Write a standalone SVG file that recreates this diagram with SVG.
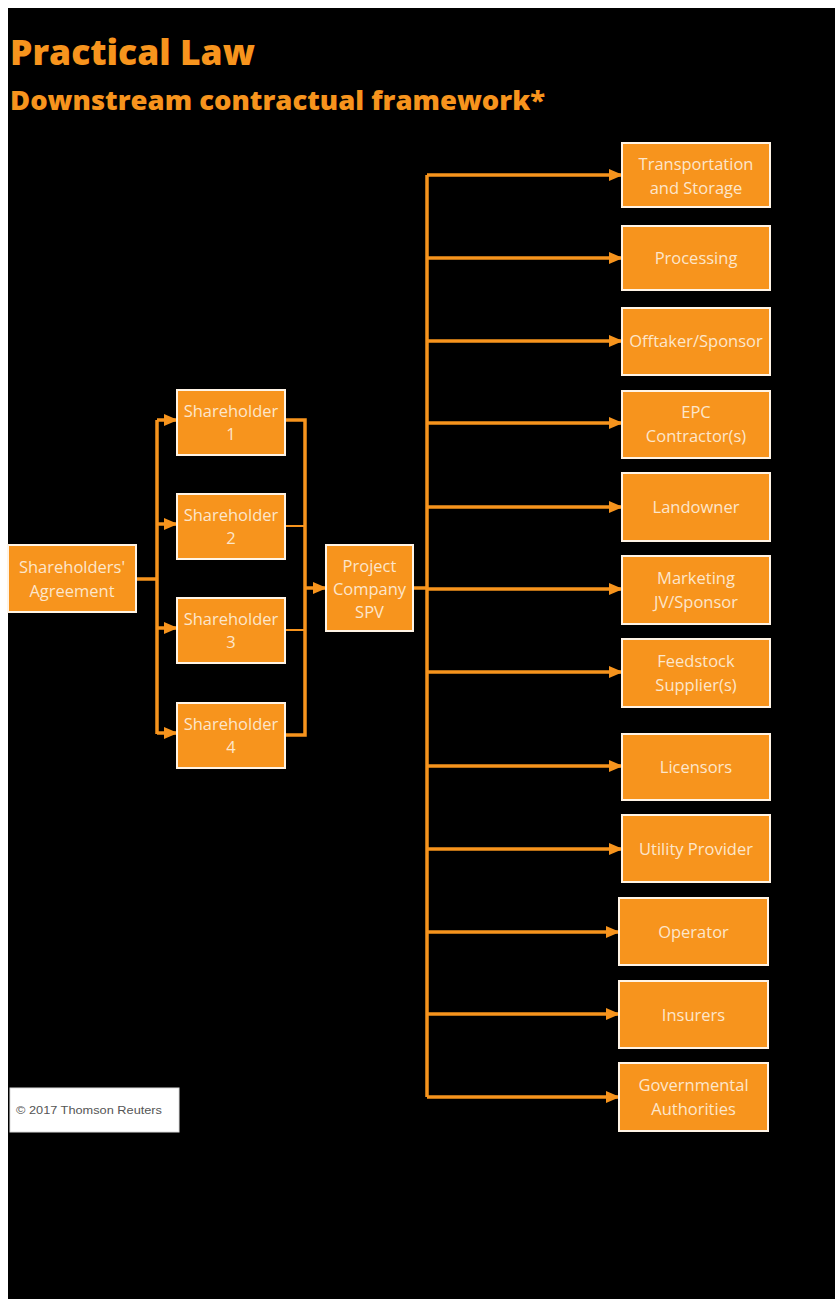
<svg xmlns="http://www.w3.org/2000/svg" width="835" height="1299" viewBox="0 0 835 1299">
  <style>
    .box { fill: #F7941D; stroke: #FFF4E6; stroke-width: 2; }
    .lbl { font-family: "Open Sans", "Liberation Sans", sans-serif; font-size: 16.5px; fill: #FDE6CB; text-anchor: middle; }
    .ln { fill: none; stroke: #F7941D; stroke-width: 3.5; }
    .thin { fill: none; stroke: #F7941D; stroke-width: 2; }
    .title { font-family: "Open Sans", "Liberation Sans", sans-serif; font-weight: 800; fill: #F7941D; }
  </style>
  <defs>
    <marker id="arr" markerUnits="userSpaceOnUse" markerWidth="14" markerHeight="14" viewBox="0 0 14 14" refX="13" refY="7" orient="auto">
      <path d="M0,1 L14,7 L0,13 Z" fill="#F7941D"/>
    </marker>
  </defs>
  <rect x="0" y="0" width="835" height="1299" fill="#FFFFFF"/>
  <rect x="8" y="8" width="827" height="1291" fill="#000000"/>

  <text class="title" x="10" y="65" font-size="35" textLength="245" lengthAdjust="spacingAndGlyphs">Practical Law</text>
  <text class="title" x="10" y="110" font-size="27" textLength="535" lengthAdjust="spacingAndGlyphs">Downstream contractual framework*</text>

  <g id="connectors">
    <path class="ln" d="M136,579 H157"/>
    <path class="ln" d="M157,420 V734"/>
    <path class="ln" d="M157,420 H177" marker-end="url(#arr)"/>
    <path class="ln" d="M157,524 H177" marker-end="url(#arr)"/>
    <path class="ln" d="M157,628 H177" marker-end="url(#arr)"/>
    <path class="ln" d="M157,733 H177" marker-end="url(#arr)"/>
    <path class="ln" d="M285,420 H305 V735 H285"/>
    <path class="thin" d="M285,526 H305"/>
    <path class="thin" d="M285,630 H305"/>
    <path class="ln" d="M305,588 H326" marker-end="url(#arr)"/>
    <path class="ln" d="M413,588 H427"/>
    <path class="ln" d="M427,175 V1097"/>
    <path class="ln" d="M427,175 H622" marker-end="url(#arr)"/>
    <path class="ln" d="M427,258 H622" marker-end="url(#arr)"/>
    <path class="ln" d="M427,341 H622" marker-end="url(#arr)"/>
    <path class="ln" d="M427,423 H622" marker-end="url(#arr)"/>
    <path class="ln" d="M427,507 H622" marker-end="url(#arr)"/>
    <path class="ln" d="M427,589 H622" marker-end="url(#arr)"/>
    <path class="ln" d="M427,672 H622" marker-end="url(#arr)"/>
    <path class="ln" d="M427,766 H622" marker-end="url(#arr)"/>
    <path class="ln" d="M427,849 H622" marker-end="url(#arr)"/>
    <path class="ln" d="M427,932 H619" marker-end="url(#arr)"/>
    <path class="ln" d="M427,1014 H619" marker-end="url(#arr)"/>
    <path class="ln" d="M427,1097 H619" marker-end="url(#arr)"/>
  </g>

  <g id="agreement">
    <rect class="box" x="8" y="545" width="128" height="67"/>
    <text class="lbl" x="72" y="573">Shareholders'</text>
    <text class="lbl" x="72" y="597">Agreement</text>
  </g>
  <g id="sh1">
    <rect class="box" x="177" y="390" width="108" height="65"/>
    <text class="lbl" x="231" y="417">Shareholder</text>
    <text class="lbl" x="231" y="440">1</text>
  </g>
  <g id="sh2">
    <rect class="box" x="177" y="494" width="108" height="65"/>
    <text class="lbl" x="231" y="521">Shareholder</text>
    <text class="lbl" x="231" y="544">2</text>
  </g>
  <g id="sh3">
    <rect class="box" x="177" y="598" width="108" height="65"/>
    <text class="lbl" x="231" y="625">Shareholder</text>
    <text class="lbl" x="231" y="648">3</text>
  </g>
  <g id="sh4">
    <rect class="box" x="177" y="703" width="108" height="65"/>
    <text class="lbl" x="231" y="730">Shareholder</text>
    <text class="lbl" x="231" y="753">4</text>
  </g>
  <g id="spv">
    <rect class="box" x="326" y="545" width="87" height="86"/>
    <text class="lbl" x="369.5" y="572">Project</text>
    <text class="lbl" x="369.5" y="595">Company</text>
    <text class="lbl" x="369.5" y="618">SPV</text>
  </g>

  <g id="transport">
    <rect class="box" x="622" y="143" width="148" height="64"/>
    <text class="lbl" x="696" y="170">Transportation</text>
    <text class="lbl" x="696" y="194">and Storage</text>
  </g>
  <g id="processing">
    <rect class="box" x="622" y="226" width="148" height="64"/>
    <text class="lbl" x="696" y="264">Processing</text>
  </g>
  <g id="offtaker">
    <rect class="box" x="622" y="308" width="148" height="67"/>
    <text class="lbl" x="696" y="347">Offtaker/Sponsor</text>
  </g>
  <g id="epc">
    <rect class="box" x="622" y="391" width="148" height="67"/>
    <text class="lbl" x="696" y="418">EPC</text>
    <text class="lbl" x="696" y="442">Contractor(s)</text>
  </g>
  <g id="landowner">
    <rect class="box" x="622" y="473" width="148" height="68"/>
    <text class="lbl" x="696" y="513">Landowner</text>
  </g>
  <g id="marketing">
    <rect class="box" x="622" y="556" width="148" height="68"/>
    <text class="lbl" x="696" y="584">Marketing</text>
    <text class="lbl" x="696" y="608">JV/Sponsor</text>
  </g>
  <g id="feedstock">
    <rect class="box" x="622" y="639" width="148" height="68"/>
    <text class="lbl" x="696" y="667">Feedstock</text>
    <text class="lbl" x="696" y="691">Supplier(s)</text>
  </g>
  <g id="licensors">
    <rect class="box" x="622" y="734" width="148" height="66"/>
    <text class="lbl" x="696" y="773">Licensors</text>
  </g>
  <g id="utility">
    <rect class="box" x="622" y="815" width="148" height="67"/>
    <text class="lbl" x="696" y="855">Utility Provider</text>
  </g>
  <g id="operator">
    <rect class="box" x="619" y="898" width="149" height="67"/>
    <text class="lbl" x="693.5" y="938">Operator</text>
  </g>
  <g id="insurers">
    <rect class="box" x="619" y="981" width="149" height="67"/>
    <text class="lbl" x="693.5" y="1021">Insurers</text>
  </g>
  <g id="governmental">
    <rect class="box" x="619" y="1063" width="149" height="68"/>
    <text class="lbl" x="693.5" y="1091">Governmental</text>
    <text class="lbl" x="693.5" y="1115">Authorities</text>
  </g>

  <g id="copyright">
    <rect x="10" y="1088" width="169" height="44" fill="#FFFFFF" stroke="#DDDDDD" stroke-width="1"/>
    <text x="16" y="1114" font-family="Liberation Sans, sans-serif" font-size="10.5" fill="#555555" textLength="146" lengthAdjust="spacingAndGlyphs">© 2017 Thomson Reuters</text>
  </g>
</svg>
